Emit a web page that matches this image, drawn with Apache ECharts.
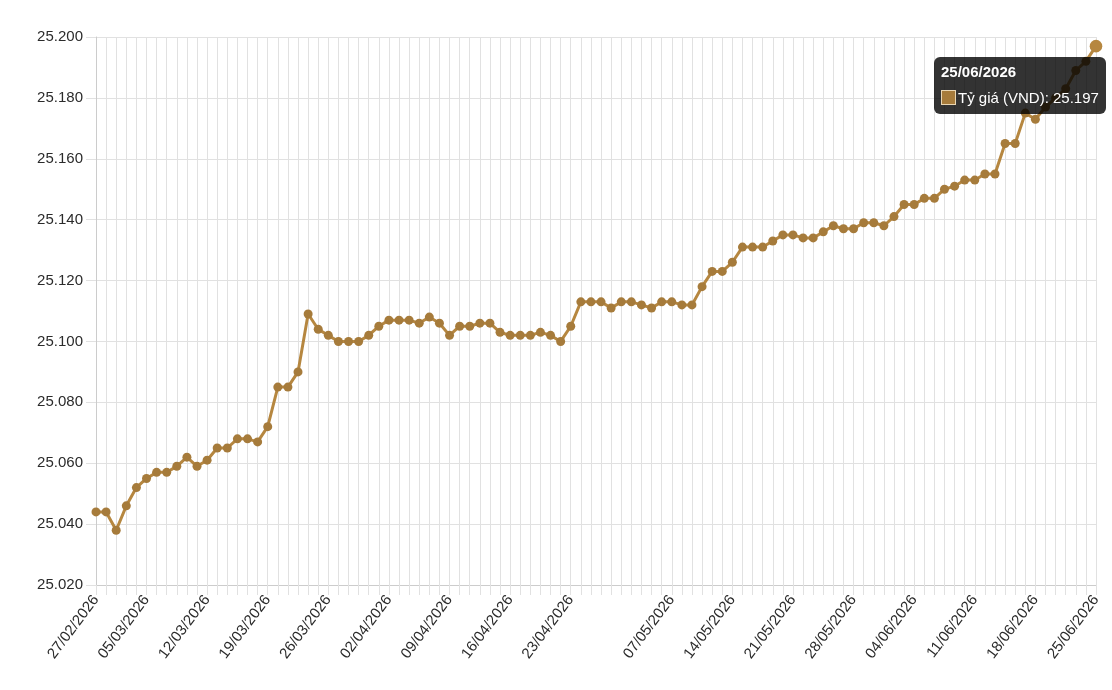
<!DOCTYPE html>
<html>
<head>
<meta charset="utf-8">
<title>Tỷ giá</title>
<script src="https://cdn.jsdelivr.net/npm/echarts@6/dist/echarts.min.js"></script>
<style>
    html, body { margin: 0; padding: 0; background: #fff; }
    #chart { width: 1112px; height: 690px; }
</style>
</head>
<body>
<div id="chart"></div>
<script>
// ngày giao dịch (không có chủ nhật, nghỉ 30/04 - 01/05)
var dates = [
    '27/02/2026', '28/02/2026',
    '02/03/2026', '03/03/2026', '04/03/2026', '05/03/2026', '06/03/2026', '07/03/2026',
    '09/03/2026', '10/03/2026', '11/03/2026', '12/03/2026', '13/03/2026', '14/03/2026',
    '16/03/2026', '17/03/2026', '18/03/2026', '19/03/2026', '20/03/2026', '21/03/2026',
    '23/03/2026', '24/03/2026', '25/03/2026', '26/03/2026', '27/03/2026', '28/03/2026',
    '30/03/2026', '31/03/2026',
    '01/04/2026', '02/04/2026', '03/04/2026', '04/04/2026',
    '06/04/2026', '07/04/2026', '08/04/2026', '09/04/2026', '10/04/2026', '11/04/2026',
    '13/04/2026', '14/04/2026', '15/04/2026', '16/04/2026', '17/04/2026', '18/04/2026',
    '20/04/2026', '21/04/2026', '22/04/2026', '23/04/2026', '24/04/2026', '25/04/2026',
    '27/04/2026', '28/04/2026', '29/04/2026',
    '02/05/2026',
    '04/05/2026', '05/05/2026', '06/05/2026', '07/05/2026', '08/05/2026', '09/05/2026',
    '11/05/2026', '12/05/2026', '13/05/2026', '14/05/2026', '15/05/2026', '16/05/2026',
    '18/05/2026', '19/05/2026', '20/05/2026', '21/05/2026', '22/05/2026', '23/05/2026',
    '25/05/2026', '26/05/2026', '27/05/2026', '28/05/2026', '29/05/2026', '30/05/2026',
    '01/06/2026', '02/06/2026', '03/06/2026', '04/06/2026', '05/06/2026', '06/06/2026',
    '08/06/2026', '09/06/2026', '10/06/2026', '11/06/2026', '12/06/2026', '13/06/2026',
    '15/06/2026', '16/06/2026', '17/06/2026', '18/06/2026', '19/06/2026', '20/06/2026',
    '22/06/2026', '23/06/2026', '24/06/2026', '25/06/2026'
]

// tỷ giá VND
var rates = [
    25044, 25044, 25038, 25046, 25052, 25055, 25057, 25057, 25059, 25062,
    25059, 25061, 25065, 25065, 25068, 25068, 25067, 25072, 25085, 25085,
    25090, 25109, 25104, 25102, 25100, 25100, 25100, 25102, 25105, 25107,
    25107, 25107, 25106, 25108, 25106, 25102, 25105, 25105, 25106, 25106,
    25103, 25102, 25102, 25102, 25103, 25102, 25100, 25105, 25113, 25113,
    25113, 25111, 25113, 25113, 25112, 25111, 25113, 25113, 25112, 25112,
    25118, 25123, 25123, 25126, 25131, 25131, 25131, 25133, 25135, 25135,
    25134, 25134, 25136, 25138, 25137, 25137, 25139, 25139, 25138, 25141,
    25145, 25145, 25147, 25147, 25150, 25151, 25153, 25153, 25155, 25155,
    25165, 25165, 25175, 25173, 25177, 25180, 25183, 25189, 25192, 25197
]

// nhãn trục x được hiện
var shownLabels = [
    '27/02/2026', '05/03/2026', '12/03/2026', '19/03/2026', '26/03/2026',
    '02/04/2026', '09/04/2026', '16/04/2026', '23/04/2026', '07/05/2026',
    '14/05/2026', '21/05/2026', '28/05/2026', '04/06/2026', '11/06/2026',
    '18/06/2026', '25/06/2026'
]

var yMin = 25020
var yMax = 25200
var yStep = 20
var seriesName = 'Tỷ giá (VND)'

var lineColor = '#a67b3b'
var gridColor = '#e1e1e1'
var textColor = '#2b2b2b'
var fontFamily = '"Liberation Sans", Arial, Helvetica, sans-serif'

function fmt(v) {
    return String(v).replace(/\B(?=(\d{3})+(?!\d))/g, '.')
}

var chart = echarts.init(document.getElementById('chart'))
var option = {
    animation: false,
    grid: {
        left: 96,
        right: 16,
        top: 37,
        bottom: 105,
    },
    tooltip: {
        trigger: 'item',
        alwaysShowContent: true,
        transitionDuration: 0,
        backgroundColor: 'rgba(0,0,0,0.8)',
        borderWidth: 0,
        padding: [6, 7, 7, 7],
        extraCssText: 'border-radius:6px;box-shadow:none;',
        textStyle: { color: '#fff', fontSize: 15, fontFamily: fontFamily },
        position: function(point, params, dom, rect, size) {
            var w = size.contentSize[0]
            var x = Math.min(point[0] - w / 2, size.viewSize[0] - w - 6)
            return [x, point[1] + 11]
        },
        formatter: function(p) {
            return '<div style="font-weight:bold;line-height:18px;margin-bottom:8px">' + p.name + '</div>' +
                '<div style="line-height:18px"><span style="display:inline-block;width:13px;height:13px;' +
                'background:' + lineColor + ';border:1px solid #e9d6b3;vertical-align:-2px;margin-right:2px"></span>' +
                p.seriesName + ': ' + fmt(p.value) + '</div>'
        },
    },
    xAxis: {
        type: 'category',
        boundaryGap: false,
        data: dates,
        axisLine: { show: true, lineStyle: { color: '#cccccc', width: 1 } },
        axisTick: {
            show: true,
            interval: 0,
            length: 10,
            lineStyle: { color: gridColor },
        },
        splitLine: {
            show: true,
            interval: 0,
            lineStyle: { color: gridColor, width: 1 },
        },
        axisLabel: {
            interval: function(index, value) {
                return shownLabels.indexOf(value) >= 0
            },
            rotate: 53,
            margin: 12,
            color: textColor,
            fontSize: 15,
            fontFamily: fontFamily,
        },
    },
    yAxis: {
        type: 'value',
        min: yMin,
        max: yMax,
        interval: yStep,
        axisLine: { show: true, lineStyle: { color: '#cccccc', width: 1 } },
        axisTick: { show: true, length: 10, lineStyle: { color: gridColor } },
        splitLine: { show: true, lineStyle: { color: gridColor, width: 1 } },
        axisLabel: {
            margin: 13,
            color: textColor,
            fontSize: 15,
            fontFamily: fontFamily,
            formatter: fmt,
        },
    },
    series: [
        {
            name: seriesName,
            type: 'line',
            data: rates,
            smooth: false,
            symbol: 'circle',
            symbolSize: 9,
            showSymbol: true,
            showAllSymbol: true,
            lineStyle: { color: lineColor, width: 3 },
            itemStyle: { color: lineColor },
            emphasis: {
                scale: 1.4,
                lineStyle: { width: 3 },
            },
        },
    ],
}
chart.setOption(option)

var last = rates.length - 1
chart.dispatchAction({ type: 'highlight', seriesIndex: 0, dataIndex: last })
chart.dispatchAction({ type: 'showTip', seriesIndex: 0, dataIndex: last })
</script>
</body>
</html>
